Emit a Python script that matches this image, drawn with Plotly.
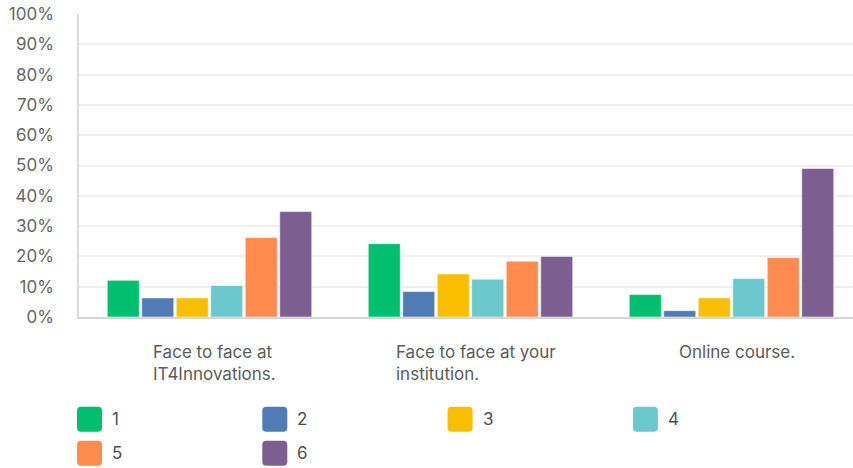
import plotly.graph_objects as go

# ---- data ----
categories = ["Face to face at<br>IT4Innovations.",
              "Face to face at your<br>institution.",
              "Online course."]
series_names = ["1", "2", "3", "4", "5", "6"]
s1 = [12.1, 24.2, 7.4]
s2 = [6.3, 8.4, 2.1]
s3 = [6.3, 14.2, 6.3]
s4 = [10.4, 12.5, 12.7]
s5 = [26.2, 18.4, 19.6]
s6 = [34.8, 20.0, 49.0]
series_values = [s1, s2, s3, s4, s5, s6]
y_ticks = list(range(0, 101, 10))
y_tick_labels = [f"{t}%" for t in y_ticks]

# ---- style ----
colors = ["#00BF6F", "#507CB6", "#F9BE00", "#6BC8CD", "#FF8B4F", "#7D5E90"]
FONT = "Inter"
FS = 17
W, H = 853, 468
L, R, T = 79, 0, 13.5
PLOT_BOTTOM = 316.7
B = H - PLOT_BOTTOM
PW, PH = W - L - R, H - T - B

fig = go.Figure()
for name, vals, col in zip(series_names, series_values, colors):
    fig.add_trace(go.Bar(
        x=list(range(len(categories))), y=vals, name=name,
        marker=dict(color=col, line=dict(color="rgba(255,255,255,0.55)", width=1)),
        showlegend=False,
    ))

# category labels (left-aligned lines, block centred under group)
for i, cat in enumerate(categories):
    fig.add_annotation(
        x=i, xref="x", y=-(340 - PLOT_BOTTOM) / PH, yref="paper",
        text=cat, showarrow=False, align="left", xanchor="center", yanchor="top",
        xshift=5, font=dict(family=FONT, size=FS, color="#5b5b5b"),
    )

# legend (4 columns, 2 rows) built from series names / colours
col_w = 185.3
sq = 25
rad = 4
for i, (name, col) in enumerate(zip(series_names, colors)):
    c, r = i % 4, i // 4
    left_px = 77 + c * col_w
    cy_px = 419 + r * 34
    xa = (left_px + sq / 2 - L) / PW
    ya = (PLOT_BOTTOM - cy_px) / PH
    h = sq / 2
    k = h - rad
    path = (f"M{-k},{-h} L{k},{-h} Q{h},{-h} {h},{-k} L{h},{k} Q{h},{h} {k},{h} "
            f"L{-k},{h} Q{-h},{h} {-h},{k} L{-h},{-k} Q{-h},{-h} {-k},{-h} Z")
    fig.add_shape(type="path", path=path, xref="paper", yref="paper",
                  xsizemode="pixel", ysizemode="pixel", xanchor=xa, yanchor=ya,
                  fillcolor=col, line=dict(color=col, width=0), layer="above")
    fig.add_annotation(
        x=(left_px + 33 - L) / PW, xref="paper", y=ya, yref="paper",
        text=name, showarrow=False, xanchor="left", yanchor="middle",
        font=dict(family=FONT, size=FS, color="#4f4f4f"),
    )

x_right = 2.5 - (L + 3 * 261 - W) / 261
fig.update_layout(
    width=W, height=H,
    margin=dict(l=L, r=R, t=T, b=B, pad=0),
    paper_bgcolor="white", plot_bgcolor="white",
    barmode="group", bargap=0.207, bargroupgap=0.072,
    font=dict(family=FONT, size=FS, color="#666666"),
    xaxis=dict(range=[-0.5, x_right], showticklabels=False, showgrid=False,
               showline=True, linecolor="#d6d6d6", linewidth=2, zeroline=False,
               fixedrange=True),
    yaxis=dict(range=[0, 100], tickvals=y_ticks, ticktext=y_tick_labels,
               showgrid=True, gridcolor="#efefef", gridwidth=1.5,
               showline=True, linecolor="#dcdcdc", linewidth=1.5, zeroline=False,
               ticks="", ticklabelstandoff=20,
               tickfont=dict(family=FONT, size=FS, color="#666666")),
)

fig.write_html("out.html", config={"displayModeBar": False},
               post_script="document.body.style.margin='0';")
